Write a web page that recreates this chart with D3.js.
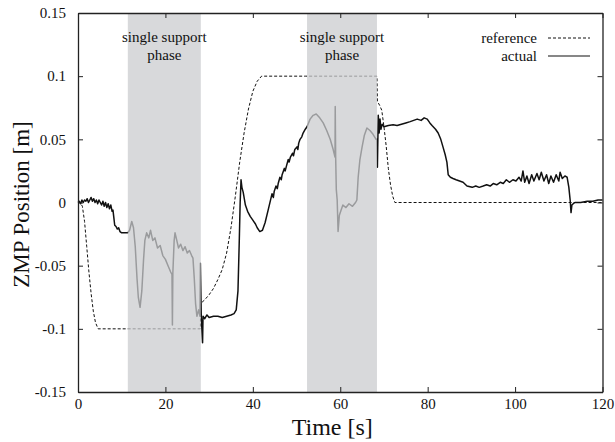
<!DOCTYPE html>
<html><head><meta charset="utf-8">
<script src="https://cdn.jsdelivr.net/npm/d3@7"></script>
<style>
body{margin:0;background:#fff;}
text{font-family:"Liberation Serif","Times New Roman",serif;fill:#111;}
</style></head>
<body><svg id="c" width="615" height="442"></svg>
<script>
const xTicks = [0,20,40,60,80,100,120];
const yTicks = [0.15,0.1,0.05,0,-0.05,-0.1,-0.15];
const yTickLabels = ["0.15","0.1","0.05","0","-0.05","-0.1","-0.15"];
const phases = [[11.4,28.1],[52.4,68.4]];
const phaseLabel = ["single support","phase"];
const seriesNames = ["reference","actual"];

const refT = [0,0.5,1,1.5,2,2.5,3,3.5,4,4.6,11.4,28.0,28.05,29,30,31,32,33,34,35,36,37,38,39,40,41,42,52,68.4,68.5,69,69.5,70,70.5,71,71.5,72,72.5,120];
const refV = [0,0,-0.003,-0.015,-0.035,-0.055,-0.072,-0.086,-0.095,-0.1,-0.1,-0.1,-0.08,-0.077,-0.073,-0.068,-0.061,-0.053,-0.04,-0.02,0.005,0.032,0.055,0.074,0.088,0.096,0.1,0.1,0.1,0.08,0.077,0.073,0.06,0.045,0.027,0.014,0.005,0,0];

const actT = [0,0.3,0.6,0.9,1.2,1.5,1.8,2.1,2.4,2.7,3.0,3.3,3.6,3.9,4.2,4.5,4.8,5.1,5.4,5.7,6.0,6.3,6.6,6.9,7.2,7.5,7.8,8.0,8.2,8.4,8.7,9.0,9.3,9.6,10,11,11.4,
11.8,12.3,12.7,13.1,13.5,13.8,14.2,14.6,15.0,15.3,15.7,16.2,16.6,17.1,17.6,18.2,18.8,19.4,20.0,20.6,21.2,21.5,21.6,21.7,22.0,22.2,22.6,23.0,23.5,24.0,24.5,25.0,25.5,26.0,26.3,26.6,26.9,27.2,27.6,27.9,28.0,28.2,
28.5,28.6,29.0,29.5,30,31,32,33,34,35,35.7,36.2,36.6,36.9,37.1,37.3,37.5,37.8,38.3,38.8,39.4,40.0,40.6,41.0,41.6,42.2,42.8,43.5,44.4,44.7,44.9,45.3,45.6,45.8,46.2,46.5,46.7,47.2,47.4,47.7,48.1,48.3,48.6,49.1,49.3,49.6,50.1,50.3,50.5,50.8,51.2,51.5,52.0,52.4,
53.1,53.8,54.5,55.3,56.1,56.9,57.7,58.3,58.8,58.85,58.95,59.1,59.3,59.5,59.8,60.2,60.6,61.3,62.0,62.8,63.5,63.8,64.1,64.5,65.0,65.5,66.1,66.8,67.5,68.2,68.4,
68.5,68.7,68.9,69.1,69.3,69.6,70,71,72.1,73,74,75,76,76.8,77.6,78.5,79.2,79.9,80.5,81.0,81.8,82.4,83,83.5,84.0,84.4,84.7,85.2,85.8,86.5,87.3,88.1,89,90.2,91,91.8,92.7,93.5,94.3,95,95.8,96.6,97.3,98,98.7,99.5,100.2,100.9,101.4,101.8,102.2,102.7,103.2,103.8,104.3,105,105.5,106,106.6,107.2,107.7,108.2,108.8,109.4,110,110.3,110.8,111.4,111.9,112.3,112.6,112.8,113.0,113.3,113.7,115,116.5,117.8,119,120];
const actV = [0,0.001,-0.001,0.002,0,0.002,0.001,0.003,0,0.002,0.004,0.001,0.003,0,0.002,-0.001,0.002,0,-0.002,0.001,-0.003,0,-0.004,-0.001,-0.005,-0.002,-0.007,-0.006,-0.012,-0.018,-0.019,-0.021,-0.02,-0.023,-0.024,-0.024,-0.024,
-0.022,-0.015,-0.02,-0.035,-0.06,-0.075,-0.083,-0.07,-0.045,-0.03,-0.024,-0.028,-0.022,-0.03,-0.028,-0.036,-0.034,-0.042,-0.045,-0.05,-0.055,-0.057,-0.097,-0.056,-0.03,-0.024,-0.03,-0.036,-0.033,-0.038,-0.035,-0.04,-0.038,-0.042,-0.044,-0.06,-0.08,-0.09,-0.085,-0.09,-0.048,-0.09,
-0.111,-0.09,-0.092,-0.089,-0.091,-0.09,-0.09,-0.091,-0.09,-0.089,-0.088,-0.085,-0.07,-0.03,0,0.018,0.012,0.008,-0.002,-0.007,-0.011,-0.014,-0.017,-0.02,-0.023,-0.022,-0.016,-0.006,0.007,0.004,0.009,0.013,0.011,0.015,0.02,0.018,0.022,0.027,0.025,0.029,0.034,0.032,0.036,0.039,0.037,0.042,0.044,0.042,0.047,0.05,0.052,0.055,0.058,0.06,
0.066,0.069,0.07,0.067,0.063,0.057,0.05,0.043,0.036,0.076,0.036,0.01,0.002,-0.023,-0.01,-0.006,-0.002,-0.004,-0.001,-0.003,0,0.002,0.02,0.034,0.044,0.053,0.059,0.057,0.054,0.05,0.05,
0.028,0.069,0.055,0.066,0.058,0.062,0.06,0.061,0.0615,0.061,0.062,0.063,0.064,0.065,0.066,0.065,0.067,0.066,0.063,0.061,0.058,0.055,0.05,0.044,0.038,0.032,0.022,0.02,0.019,0.018,0.017,0.016,0.013,0.012,0.013,0.012,0.013,0.014,0.013,0.015,0.014,0.016,0.015,0.018,0.016,0.018,0.017,0.02,0.017,0.025,0.016,0.021,0.015,0.022,0.017,0.023,0.018,0.024,0.017,0.022,0.015,0.021,0.016,0.022,0.017,0.024,0.019,0.021,0.02,0.012,0.002,-0.008,-0.002,-0.001,0,0,0.001,0.001,0.002,0.002];

const W=615,H=442, L=78, R=602.5, T=13, B=392;
const svg = d3.select("#c");
const x = d3.scaleLinear().domain([0,120]).range([L,R]);
const y = d3.scaleLinear().domain([-0.15,0.15]).range([B,T]);

const line = d3.line().x(d=>x(d[0])).y(d=>y(d[1]));
const refData = refT.map((t,i)=>[t,refV[i]]);
const actData = actT.map((t,i)=>[t,actV[i]]);

svg.append("path").datum(refData).attr("d",line).attr("fill","none")
  .attr("stroke","#111").attr("stroke-width",1).attr("stroke-dasharray","3,2");
svg.append("path").datum(actData).attr("d",line).attr("fill","none")
  .attr("stroke","#111").attr("stroke-width",1.5).attr("stroke-linejoin","round");

// shading overlay
svg.selectAll("rect.ph").data(phases).enter().append("rect").attr("class","ph")
  .attr("x",d=>x(d[0])).attr("width",d=>x(d[1])-x(d[0]))
  .attr("y",y(0.15)).attr("height",y(-0.15)-y(0.15))
  .attr("fill","rgb(203,204,207)").attr("opacity",0.74);

phases.forEach(p=>{
  const cx = x((p[0]+p[1])/2);
  phaseLabel.forEach((s,i)=>{
    svg.append("text").attr("x",cx).attr("y",42+i*18).attr("text-anchor","middle")
      .attr("font-size",15).text(s);
  });
});

// axes
const fmt = v => yTickLabels[yTicks.indexOf(v)];
const gx = svg.append("g").attr("transform",`translate(0,${B})`)
  .call(d3.axisBottom(x).tickValues(xTicks).tickSize(-5).tickSizeOuter(0).tickPadding(6).tickFormat(d=>d));
const gxt = svg.append("g").attr("transform",`translate(0,${T})`)
  .call(d3.axisTop(x).tickValues(xTicks).tickSize(-5).tickSizeOuter(0).tickFormat(""));
const gy = svg.append("g").attr("transform",`translate(${L},0)`)
  .call(d3.axisLeft(y).tickValues(yTicks).tickSize(-5).tickSizeOuter(0).tickPadding(12).tickFormat(fmt));
const gyr = svg.append("g").attr("transform",`translate(${R},0)`)
  .call(d3.axisRight(y).tickValues(yTicks).tickSize(-5).tickSizeOuter(0).tickFormat(""));
[gx,gxt,gy,gyr].forEach(g=>{
  g.selectAll("path.domain").attr("stroke","#222").attr("stroke-width",1.3);
  g.selectAll(".tick line").attr("stroke","#222");
  g.selectAll("text").attr("font-size",15).attr("font-family","Liberation Serif, serif").attr("fill","#111");
});
svg.append("text").attr("x",(L+R)/2-8).attr("y",435).attr("text-anchor","middle")
  .attr("font-size",24).text("Time [s]");
svg.append("text").attr("transform",`translate(29,${(T+B)/2+2}) rotate(-90)`)
  .attr("text-anchor","middle").attr("font-size",23).text("ZMP Position [m]");

// legend
seriesNames.forEach((s,i)=>{
  const ly = 38+i*18;
  svg.append("text").attr("x",537).attr("y",ly+5).attr("text-anchor","end").attr("font-size",15).text(s);
  svg.append("line").attr("x1",548).attr("x2",590).attr("y1",ly).attr("y2",ly)
    .attr("stroke","#111").attr("stroke-width",i?1.2:1).attr("stroke-dasharray",i?null:"3,2");
});
</script></body></html>
